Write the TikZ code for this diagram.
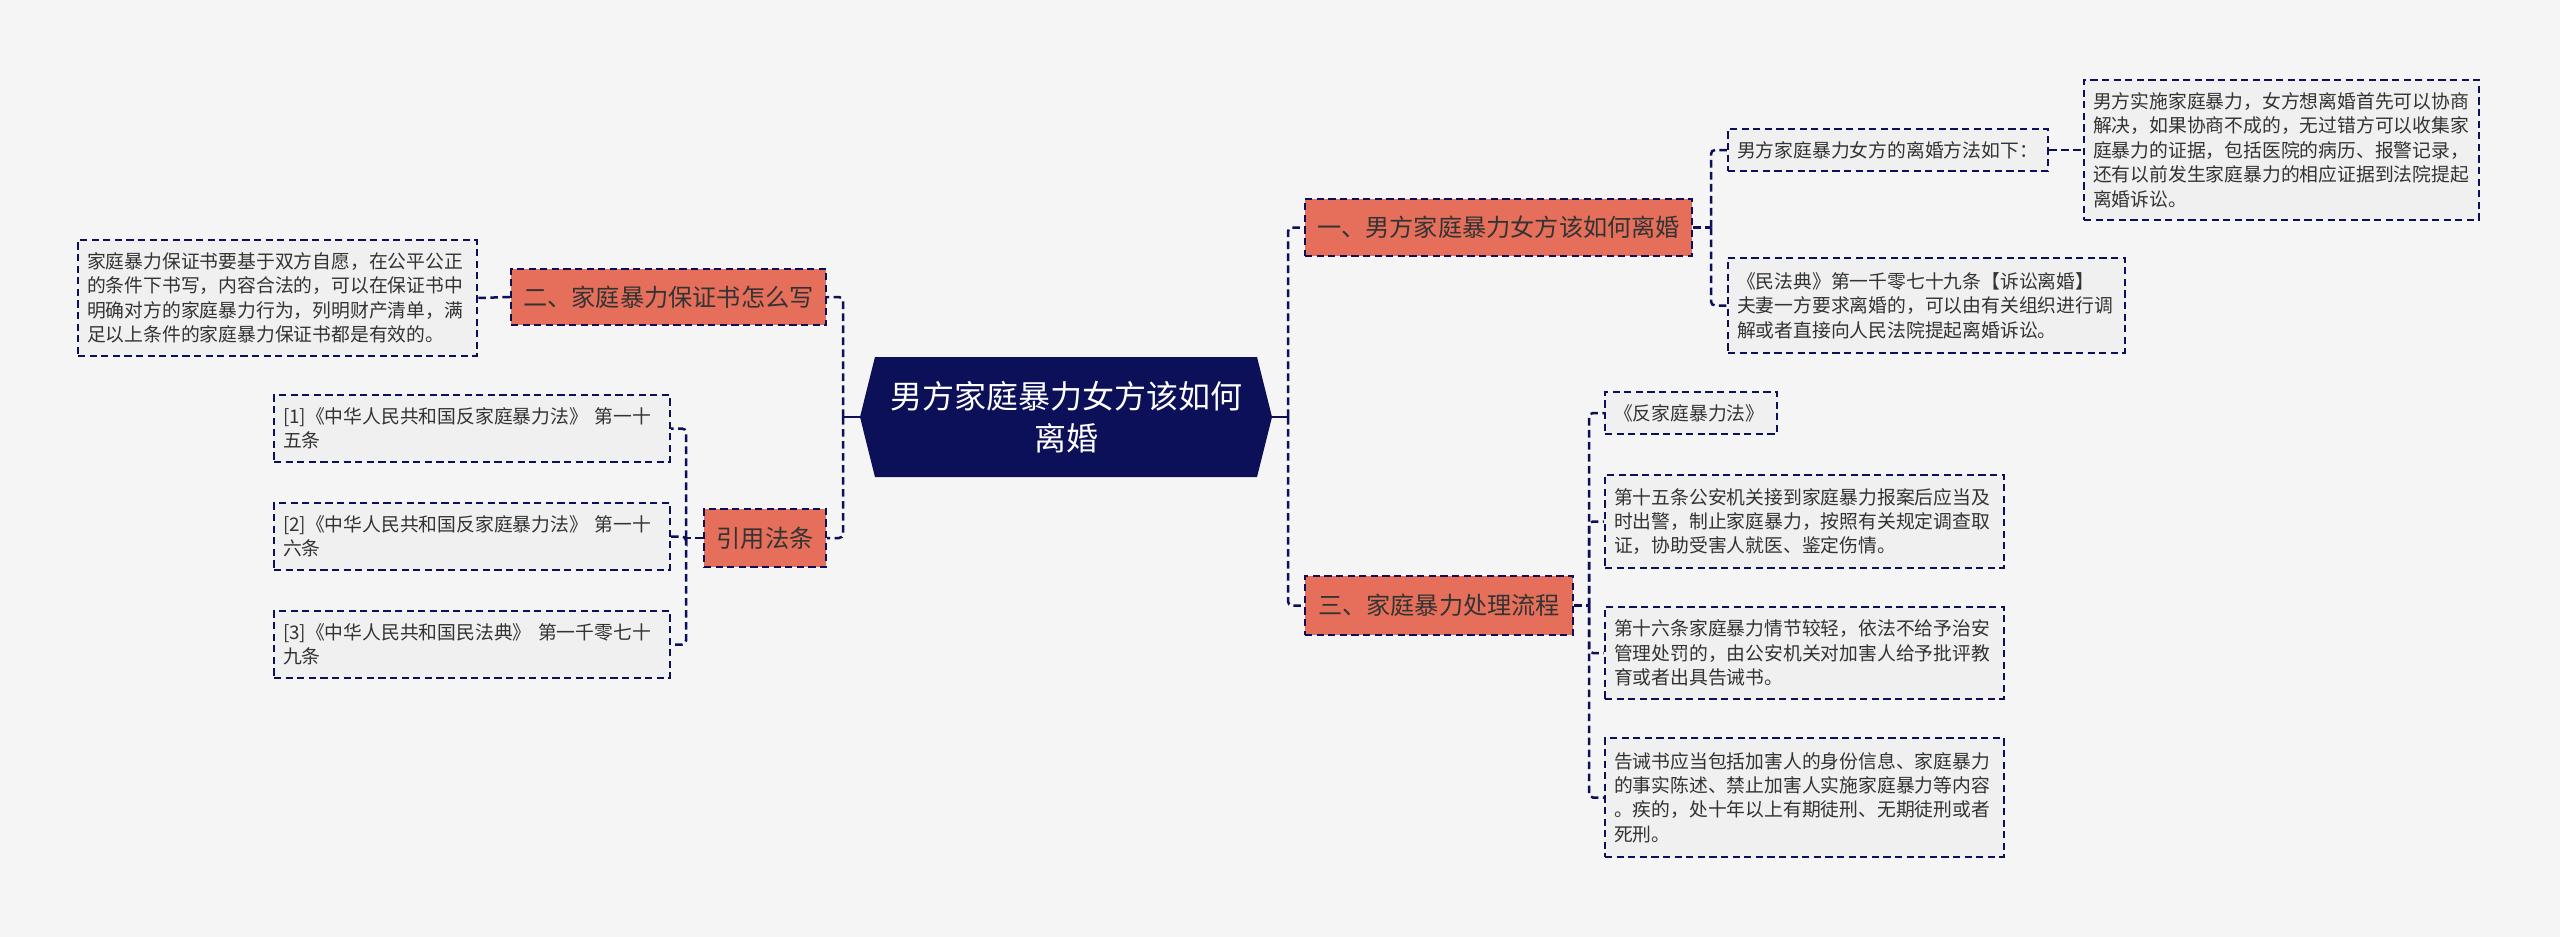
\documentclass[tikz,border=0pt]{standalone}
\usepackage{fontspec}
\setmainfont{Noto Sans CJK SC}
\usepackage{tikz}
\usetikzlibrary{positioning,shapes.symbols}
\definecolor{navy}{HTML}{0C1059}
\definecolor{coral}{HTML}{E56F5A}
\definecolor{paper}{HTML}{F5F5F5}
\definecolor{leaffill}{HTML}{F0F0F0}
\definecolor{ink}{HTML}{333333}

\begin{document}
\begin{tikzpicture}[x=0.5pt, y=-0.5pt,
        rootbox/.style={signal, signal to=west and east, signal pointer angle=152, fill=navy, text=white, align=center, inner sep=0pt, minimum width=206pt, minimum height=60pt, font=\fontsize{16}{21}\selectfont},
        branchbox/.style={rectangle, draw=navy, fill=coral, line width=1.1pt, dash pattern=on 3.6pt off 2.2pt, text=ink, inner sep=0pt, font=\fontsize{12.1}{15}\selectfont},
        leafbox/.style={rectangle, draw=navy, fill=leaffill, line width=1.1pt, dash pattern=on 3.6pt off 2.2pt, text=ink, align=left, inner xsep=4.5pt, inner ysep=0pt, font=\fontsize{9.4}{12.2}\selectfont},
        link/.style={draw=navy, line width=1.25pt, dash pattern=on 3.8pt off 2.2pt, rounded corners=2pt}]
        \fill[paper] (0,0) rectangle (2560,937);

        \node[rootbox] (root) at (1066,417) {男方家庭暴力女方该如何\\离婚};

        % left side
        \node[branchbox, minimum width=157.5pt, minimum height=28pt] (howtowrite) at (668.5,297) {二、家庭暴力保证书怎么写};
        \node[leafbox, text width=190.5pt, minimum height=58pt] (writetext) at (277.5,298) {家庭暴力保证书要基于双方自愿，在公平公正\\的条件下书写，内容合法的，可以在保证书中\\明确对方的家庭暴力行为，列明财产清单，满\\足以上条件的家庭暴力保证书都是有效的。};
        \node[branchbox, minimum width=61pt, minimum height=29pt] (citelaws) at (765,538) {引用法条};
        \node[leafbox, text width=189pt, minimum height=33.5pt] (lawone) at (472,428.5) {[1]《中华人民共和国反家庭暴力法》 第一十\\五条};
        \node[leafbox, text width=189pt, minimum height=33.5pt] (lawtwo) at (472,536.5) {[2]《中华人民共和国反家庭暴力法》 第一十\\六条};
        \node[leafbox, text width=189pt, minimum height=33.5pt] (lawthree) at (472,644.5) {[3]《中华人民共和国民法典》 第一千零七十\\九条};

        % right side
        \node[branchbox, minimum width=193.5pt, minimum height=28.5pt] (howtodivorce) at (1498.5,227.5) {一、男方家庭暴力女方该如何离婚};
        \node[leafbox, text width=151pt, minimum height=21pt] (methods) at (1888,150) {男方家庭暴力女方的离婚方法如下：};
        \node[leafbox, text width=188.5pt, minimum height=70pt] (methodtext) at (2281.5,150) {男方实施家庭暴力，女方想离婚首先可以协商\\解决，如果协商不成的，无过错方可以收集家\\庭暴力的证据，包括医院的病历、报警记录，\\还有以前发生家庭暴力的相应证据到法院提起\\离婚诉讼。};
        \node[leafbox, text width=189.5pt, minimum height=47.5pt] (civilcode) at (1926.5,305.5) {《民法典》第一千零七十九条【诉讼离婚】\\夫妻一方要求离婚的，可以由有关组织进行调\\解或者直接向人民法院提起离婚诉讼。};
        \node[branchbox, minimum width=134pt, minimum height=29.5pt] (procedure) at (1439,605.5) {三、家庭暴力处理流程};
        \node[leafbox, text width=77pt, minimum height=21pt] (antidvlaw) at (1691,413) {《反家庭暴力法》};
        \node[leafbox, text width=190.5pt, minimum height=46.5pt] (articlefifteen) at (1804.5,521.5) {第十五条公安机关接到家庭暴力报案后应当及\\时出警，制止家庭暴力，按照有关规定调查取\\证，协助受害人就医、鉴定伤情。};
        \node[leafbox, text width=190.5pt, minimum height=46pt] (articlesixteen) at (1804.5,653) {第十六条家庭暴力情节较轻，依法不给予治安\\管理处罚的，由公安机关对加害人给予批评教\\育或者出具告诫书。};
        \node[leafbox, text width=190.5pt, minimum height=59.5pt] (warningletter) at (1804.5,797.5) {告诫书应当包括加害人的身份信息、家庭暴力\\的事实陈述、禁止加害人实施家庭暴力等内容\\。疾的，处十年以上有期徒刑、无期徒刑或者\\死刑。};

        % forks
        \coordinate (leftfork) at (843,417);
        \coordinate (rightfork) at (1288,417);
        \coordinate (citefork) at (686,538);
        \coordinate (divorcefork) at (1711,227.5);
        \coordinate (procfork) at (1589,605.5);

        \draw[navy, line width=1.3pt] (root.west) -- (leftfork);
        \draw[navy, line width=1.3pt] (root.east) -- (rightfork);
        \draw[link] (leftfork) |- (howtowrite.east);
        \draw[link] (leftfork) |- (citelaws.east);
        \draw[link] (rightfork) |- (howtodivorce.west);
        \draw[link] (rightfork) |- (procedure.west);

        \draw[link] (howtowrite.west) -- (writetext.east);
        \draw[link] (citelaws.west) -- (citefork);
        \draw[link] (citefork) |- (lawone.east);
        \draw[link] (citefork) |- (lawtwo.east);
        \draw[link] (citefork) |- (lawthree.east);

        \draw[link] (howtodivorce.east) -- (divorcefork);
        \draw[link] (divorcefork) |- (methods.west);
        \draw[link] (divorcefork) |- (civilcode.west);
        \draw[link] (methods.east) -- (methodtext.west);

        \draw[link] (procedure.east) -- (procfork);
        \draw[link] (procfork) |- (antidvlaw.west);
        \draw[link] (procfork) |- (articlefifteen.west);
        \draw[link] (procfork) |- (articlesixteen.west);
        \draw[link] (procfork) |- (warningletter.west);
\end{tikzpicture}
\end{document}
